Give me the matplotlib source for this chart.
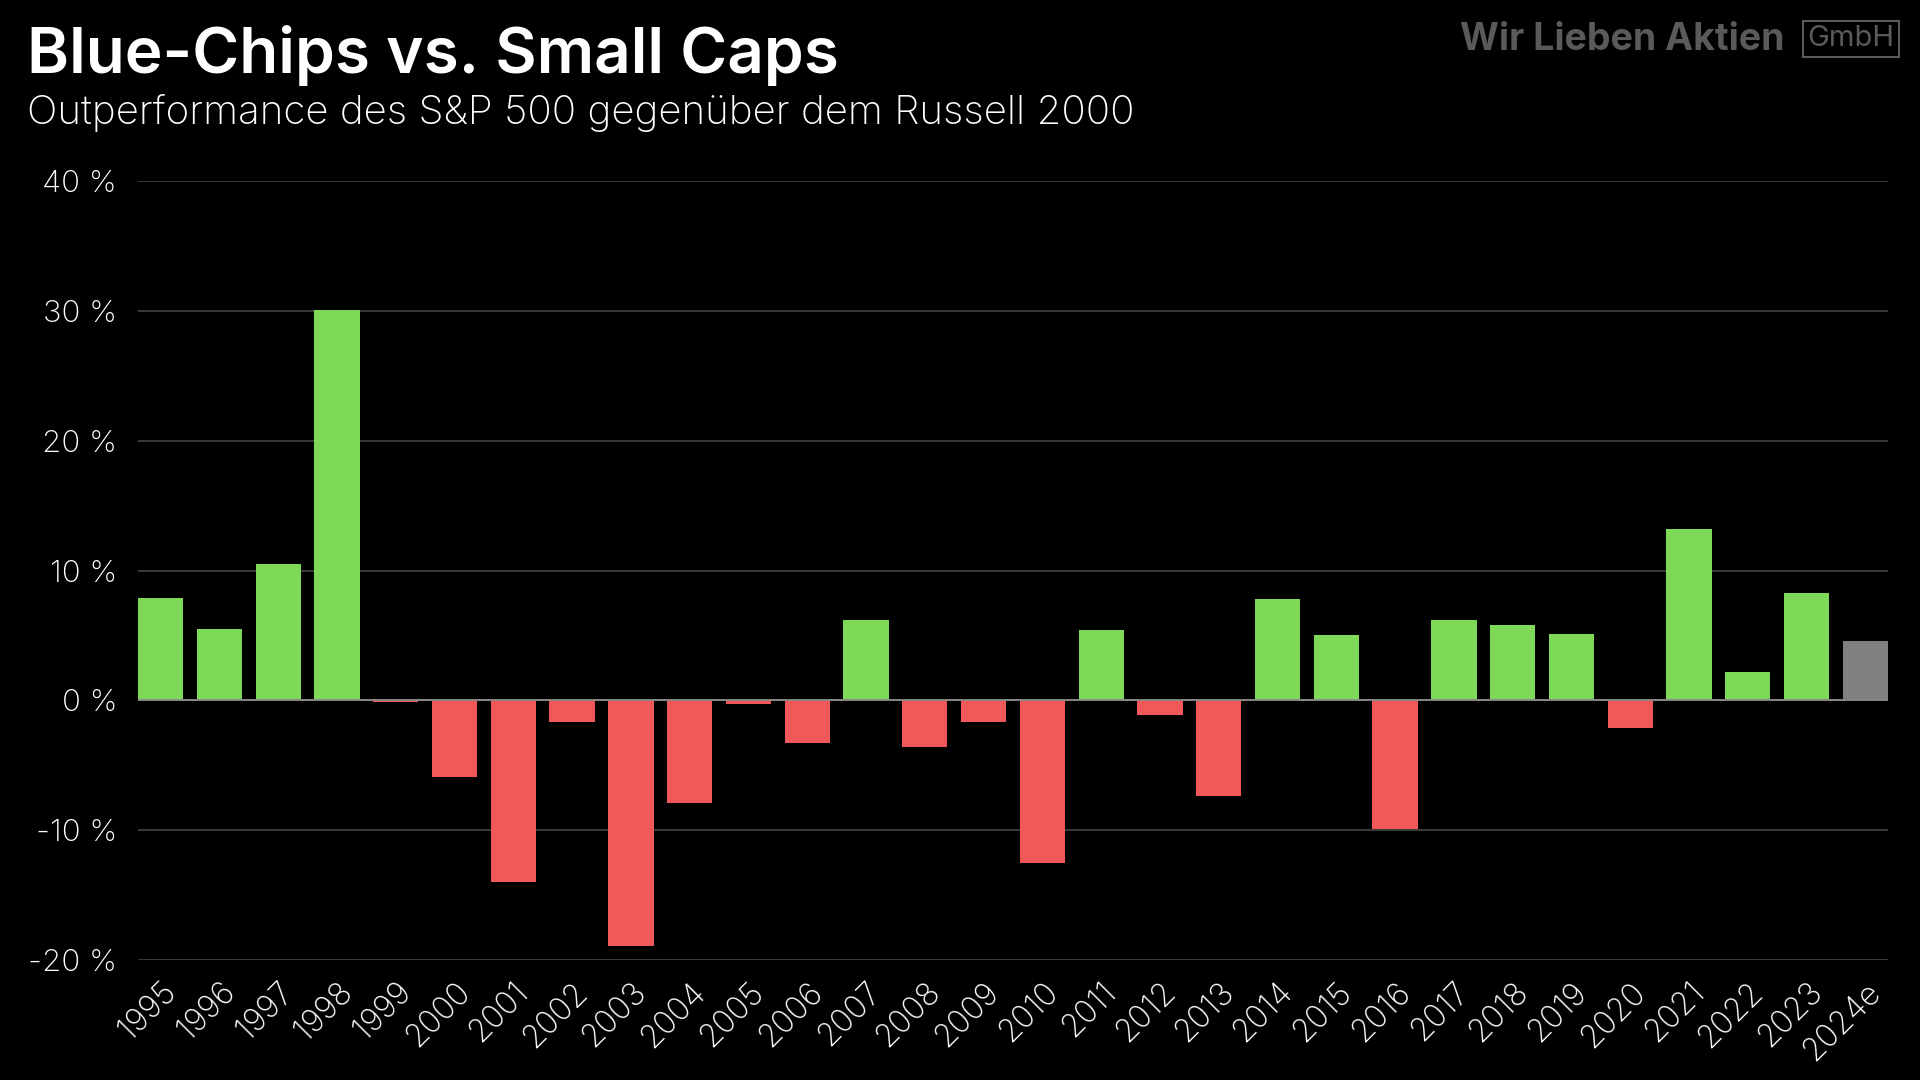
import matplotlib
matplotlib.use('Agg')
import matplotlib.pyplot as plt

# Daten: Outperformance S&P 500 ggü. Russell 2000 (in %)
years = ['1995', '1996', '1997', '1998', '1999', '2000', '2001', '2002', '2003', '2004',
         '2005', '2006', '2007', '2008', '2009', '2010', '2011', '2012', '2013', '2014',
         '2015', '2016', '2017', '2018', '2019', '2020', '2021', '2022', '2023', '2024e']
values = [7.9, 5.5, 10.5, 30.1, -0.1, -5.9, -14.0, -1.7, -18.9, -7.9,
          -0.3, -3.3, 6.2, -3.6, -1.7, -12.5, 5.4, -1.1, -7.4, 7.8,
          5.0, -9.9, 6.2, 5.8, 5.1, -2.1, 13.2, 2.2, 8.3, 4.6]
yticks = [-20, -10, 0, 10, 20, 30, 40]

GREEN = '#7ed957'
RED = '#f2575a'
GREY = '#808080'
FONT = ['Inter', 'DejaVu Sans']

plt.rcParams['font.family'] = FONT

fig = plt.figure(figsize=(19.2, 10.8), dpi=100, facecolor='black')
ax = fig.add_axes([138 / 1920, 1 - 960 / 1080, (1888 - 138) / 1920, (960 - 181) / 1080])
ax.set_facecolor('black')

colors = []
for i, v in enumerate(values):
    if years[i].endswith('e'):
        colors.append(GREY)
    elif v >= 0:
        colors.append(GREEN)
    else:
        colors.append(RED)

x = list(range(len(years)))
ax.bar(x, values, width=0.77, color=colors, zorder=3)

ax.set_ylim(-20, 40)
ax.set_xlim(-0.385, len(years) - 1 + 0.385)
ax.set_yticks(yticks)
ax.set_yticklabels([f'{t} %' for t in yticks])
ax.grid(axis='y', color='#444444', linewidth=1.2, zorder=0)
ax.axhline(0, color='#888888', linewidth=1.4, zorder=4)

ax.set_xticks(x)
ax.set_xticklabels(years, rotation=45, ha='right', rotation_mode='anchor')
for lab in ax.get_xticklabels():
    lab.set_fontsize(23)
    lab.set_color('white')
    lab.set_fontweight('light')
for lab in ax.get_yticklabels():
    lab.set_fontsize(22.5)
    lab.set_color('white')
    lab.set_fontweight('light')

ax.tick_params(axis='both', length=0)
ax.tick_params(axis='y', pad=15)
ax.tick_params(axis='x', pad=12)
for s in ax.spines.values():
    s.set_visible(False)

# Titel
fig.text(27 / 1920, 1 - 55 / 1080, 'Blue-Chips vs. Small Caps', color='white',
         fontsize=46, fontweight='semibold', va='center', ha='left')
fig.text(27 / 1920, 1 - 113 / 1080, 'Outperformance des S&P 500 gegenüber dem Russell 2000',
         color='white', fontsize=29, fontweight='light', va='center', ha='left')

# Logo
fig.text(1785 / 1920, 1 - 40 / 1080, 'Wir Lieben Aktien', color='#5a5a5a',
         fontsize=27, fontweight='bold', va='center', ha='right')
fig.text(1851 / 1920, 1 - 39 / 1080, 'GmbH', color='#5a5a5a', fontsize=21,
         va='center', ha='center',
         bbox=dict(boxstyle='square,pad=0.15', fc='none', ec='#5a5a5a', lw=1.5))

fig.savefig('out.png', dpi=100, facecolor='black')
